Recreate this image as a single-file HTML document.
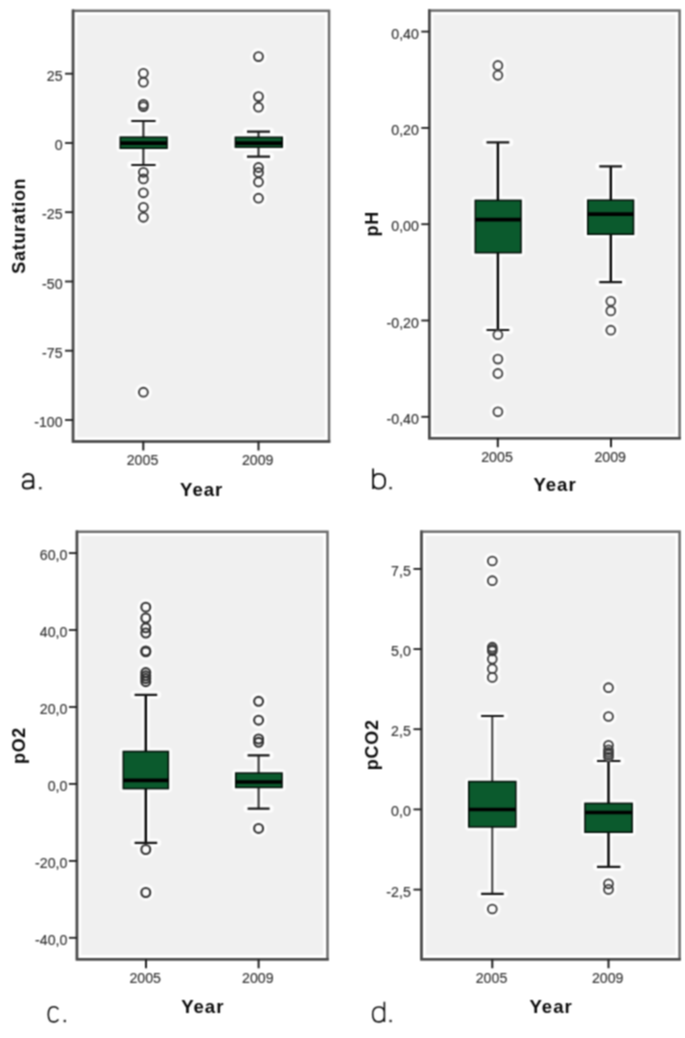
<!DOCTYPE html>
<html><head><meta charset="utf-8"><title>Box plots</title>
<style>
html,body{margin:0;padding:0;background:#fff;}
body{width:685px;height:1038px;overflow:hidden;}
svg{display:block;}
.tk{font-family:"Liberation Sans",sans-serif;font-size:14.2px;fill:#333333;stroke:#333333;stroke-width:0.15px;}
.yr{font-size:18.6px !important;letter-spacing:1.0px !important;}
.tt{font-family:"Liberation Sans",sans-serif;font-size:18px;font-weight:bold;fill:#0a0a0a;letter-spacing:0.7px;}
</style></head>
<body>
<svg width="685" height="1038" viewBox="0 0 685 1038">
<defs><filter id="sb" x="0" y="0" width="685" height="1038" filterUnits="userSpaceOnUse" color-interpolation-filters="sRGB"><feConvolveMatrix order="3" kernelMatrix="0.0625 0.125 0.0625 0.125 0.25 0.125 0.0625 0.125 0.0625" edgeMode="duplicate"/></filter></defs>
<g filter="url(#sb)">
<rect width="685" height="1038" fill="#fff"/>
<rect x="73.05" y="10.8" width="256" height="430.7" fill="#ffffff"/>
<rect x="77.25" y="15" width="247.6" height="422.3" fill="#f0f0f0"/>
<path d="M143.4,121 L143.4,165 M131.3,121 L155.6,121 M131.3,165 L155.6,165" stroke="#fdfdfd" stroke-width="8.2" stroke-linecap="round" fill="none"/>
<rect x="120.3" y="137.2" width="46.7" height="11" fill="#fdfdfd" stroke="#fdfdfd" stroke-width="7.6" stroke-linejoin="round"/>
<circle cx="143.4" cy="73.3" r="8.4" fill="#fdfdfd"/>
<circle cx="143.4" cy="82.2" r="8.4" fill="#fdfdfd"/>
<circle cx="143.4" cy="104.3" r="8.4" fill="#fdfdfd"/>
<circle cx="143.4" cy="106.6" r="8.4" fill="#fdfdfd"/>
<circle cx="143.4" cy="172.3" r="8.4" fill="#fdfdfd"/>
<circle cx="143.4" cy="178.9" r="8.4" fill="#fdfdfd"/>
<circle cx="143.4" cy="192.8" r="8.4" fill="#fdfdfd"/>
<circle cx="143.4" cy="207.3" r="8.4" fill="#fdfdfd"/>
<circle cx="143.4" cy="217.3" r="8.4" fill="#fdfdfd"/>
<circle cx="143.4" cy="392.2" r="8.4" fill="#fdfdfd"/>
<path d="M258.5,131.7 L258.5,156.7 M247,131.7 L270,131.7 M247,156.7 L270,156.7" stroke="#fdfdfd" stroke-width="8.2" stroke-linecap="round" fill="none"/>
<rect x="235.4" y="137.3" width="46.8" height="9.8" fill="#fdfdfd" stroke="#fdfdfd" stroke-width="7.6" stroke-linejoin="round"/>
<circle cx="258.5" cy="56.6" r="8.4" fill="#fdfdfd"/>
<circle cx="258.5" cy="96.6" r="8.4" fill="#fdfdfd"/>
<circle cx="258.5" cy="107.2" r="8.4" fill="#fdfdfd"/>
<circle cx="258.5" cy="167.5" r="8.4" fill="#fdfdfd"/>
<circle cx="258.5" cy="172.5" r="8.4" fill="#fdfdfd"/>
<circle cx="258.5" cy="182" r="8.4" fill="#fdfdfd"/>
<circle cx="258.5" cy="198.2" r="8.4" fill="#fdfdfd"/>
<path d="M143.4,121 L143.4,137.2 M143.4,148.2 L143.4,165" stroke="#2a2a2a" stroke-width="2.1" fill="none"/>
<path d="M131.3,121 L155.6,121 M131.3,165 L155.6,165" stroke="#151515" stroke-width="2.2" fill="none"/>
<rect x="120.3" y="137.2" width="46.7" height="11" fill="#0b5a2d" stroke="#021008" stroke-width="1.6"/>
<path d="M120.3,143.1 L167,143.1" stroke="#000" stroke-width="3.7"/>
<circle cx="143.4" cy="73.3" r="4.45" fill="#fcfcfc"/>
<circle cx="143.4" cy="82.2" r="4.45" fill="#fcfcfc"/>
<circle cx="143.4" cy="104.3" r="4.45" fill="#fcfcfc"/>
<circle cx="143.4" cy="106.6" r="4.45" fill="#fcfcfc"/>
<circle cx="143.4" cy="172.3" r="4.45" fill="#fcfcfc"/>
<circle cx="143.4" cy="178.9" r="4.45" fill="#fcfcfc"/>
<circle cx="143.4" cy="192.8" r="4.45" fill="#fcfcfc"/>
<circle cx="143.4" cy="207.3" r="4.45" fill="#fcfcfc"/>
<circle cx="143.4" cy="217.3" r="4.45" fill="#fcfcfc"/>
<circle cx="143.4" cy="392.2" r="4.45" fill="#fcfcfc"/>
<circle cx="143.4" cy="73.3" r="4.45" fill="none" stroke="#383838" stroke-width="1.9"/>
<circle cx="143.4" cy="82.2" r="4.45" fill="none" stroke="#383838" stroke-width="1.9"/>
<circle cx="143.4" cy="104.3" r="4.45" fill="none" stroke="#383838" stroke-width="1.9"/>
<circle cx="143.4" cy="106.6" r="4.45" fill="none" stroke="#383838" stroke-width="1.9"/>
<circle cx="143.4" cy="172.3" r="4.45" fill="none" stroke="#383838" stroke-width="1.9"/>
<circle cx="143.4" cy="178.9" r="4.45" fill="none" stroke="#383838" stroke-width="1.9"/>
<circle cx="143.4" cy="192.8" r="4.45" fill="none" stroke="#383838" stroke-width="1.9"/>
<circle cx="143.4" cy="207.3" r="4.45" fill="none" stroke="#383838" stroke-width="1.9"/>
<circle cx="143.4" cy="217.3" r="4.45" fill="none" stroke="#383838" stroke-width="1.9"/>
<circle cx="143.4" cy="392.2" r="4.45" fill="none" stroke="#383838" stroke-width="1.9"/>
<path d="M258.5,131.7 L258.5,137.3 M258.5,147.1 L258.5,156.7" stroke="#2a2a2a" stroke-width="2.1" fill="none"/>
<path d="M247,131.7 L270,131.7 M247,156.7 L270,156.7" stroke="#151515" stroke-width="2.2" fill="none"/>
<rect x="235.4" y="137.3" width="46.8" height="9.8" fill="#0b5a2d" stroke="#021008" stroke-width="1.6"/>
<path d="M235.4,143.2 L282.2,143.2" stroke="#000" stroke-width="3.7"/>
<circle cx="258.5" cy="56.6" r="4.45" fill="#fcfcfc"/>
<circle cx="258.5" cy="96.6" r="4.45" fill="#fcfcfc"/>
<circle cx="258.5" cy="107.2" r="4.45" fill="#fcfcfc"/>
<circle cx="258.5" cy="167.5" r="4.45" fill="#fcfcfc"/>
<circle cx="258.5" cy="172.5" r="4.45" fill="#fcfcfc"/>
<circle cx="258.5" cy="182" r="4.45" fill="#fcfcfc"/>
<circle cx="258.5" cy="198.2" r="4.45" fill="#fcfcfc"/>
<circle cx="258.5" cy="56.6" r="4.45" fill="none" stroke="#383838" stroke-width="1.9"/>
<circle cx="258.5" cy="96.6" r="4.45" fill="none" stroke="#383838" stroke-width="1.9"/>
<circle cx="258.5" cy="107.2" r="4.45" fill="none" stroke="#383838" stroke-width="1.9"/>
<circle cx="258.5" cy="167.5" r="4.45" fill="none" stroke="#383838" stroke-width="1.9"/>
<circle cx="258.5" cy="172.5" r="4.45" fill="none" stroke="#383838" stroke-width="1.9"/>
<circle cx="258.5" cy="182" r="4.45" fill="none" stroke="#383838" stroke-width="1.9"/>
<circle cx="258.5" cy="198.2" r="4.45" fill="none" stroke="#383838" stroke-width="1.9"/>
<rect x="73.05" y="10.8" width="256" height="430.7" fill="none" stroke="#6c6c6c" stroke-width="2.5"/>
<path d="M73.05,9.55 L73.05,441.5 L330.3,441.5" fill="none" stroke="#4a4a4a" stroke-width="2.5"/>
<path d="M65.05,73.7 L73.05,73.7" stroke="#1c1c1c" stroke-width="1.8"/>
<text x="62.6" y="80.7" text-anchor="end" class="tk">25</text>
<path d="M65.05,143 L73.05,143" stroke="#1c1c1c" stroke-width="1.8"/>
<text x="62.6" y="150" text-anchor="end" class="tk">0</text>
<path d="M65.05,212.2 L73.05,212.2" stroke="#1c1c1c" stroke-width="1.8"/>
<text x="62.6" y="219.2" text-anchor="end" class="tk">-25</text>
<path d="M65.05,281.5 L73.05,281.5" stroke="#1c1c1c" stroke-width="1.8"/>
<text x="62.6" y="288.5" text-anchor="end" class="tk">-50</text>
<path d="M65.05,350.7 L73.05,350.7" stroke="#1c1c1c" stroke-width="1.8"/>
<text x="62.6" y="357.7" text-anchor="end" class="tk">-75</text>
<path d="M65.05,420 L73.05,420" stroke="#1c1c1c" stroke-width="1.8"/>
<text x="62.6" y="427" text-anchor="end" class="tk">-100</text>
<path d="M143.3,441.5 L143.3,450.5" stroke="#1c1c1c" stroke-width="2"/>
<text x="142.5" y="465.2" text-anchor="middle" class="tk">2005</text>
<path d="M258.5,441.5 L258.5,450.5" stroke="#1c1c1c" stroke-width="2"/>
<text x="257.7" y="465.2" text-anchor="middle" class="tk">2009</text>
<text x="201.65" y="495.6" text-anchor="middle" class="tt yr">Year</text>
<text transform="translate(25.3,225.7) rotate(-90)" x="0" y="0" text-anchor="middle" class="tt">Saturation</text>
<g fill="none" stroke="#111" stroke-width="2.0" stroke-linecap="butt"><path d="M22.9,477.6 C24,474.6 26,473.9 28.1,473.9 C31.6,473.9 33.3,475.6 33.3,479 L33.3,488.7 M33.3,481.3 L27.2,481.3 C24.4,481.3 22.8,482.9 22.8,485 C22.8,487.3 24.5,488.6 27,488.6 C29.6,488.6 31.9,487.4 33.3,485.2"/></g>
<rect x="39.1" y="487" width="2.4" height="2.4" fill="#333"/>
<rect x="429.3" y="10.55" width="250.3" height="427.65" fill="#ffffff"/>
<rect x="433.5" y="14.75" width="241.9" height="419.25" fill="#f0f0f0"/>
<path d="M497.9,142.4 L497.9,330 M486.5,142.4 L509.3,142.4 M486.5,330 L509.3,330" stroke="#fdfdfd" stroke-width="8.2" stroke-linecap="round" fill="none"/>
<rect x="475.3" y="200.4" width="45.7" height="52.3" fill="#fdfdfd" stroke="#fdfdfd" stroke-width="7.6" stroke-linejoin="round"/>
<circle cx="497.9" cy="65.5" r="8.4" fill="#fdfdfd"/>
<circle cx="497.9" cy="75.3" r="8.4" fill="#fdfdfd"/>
<circle cx="497.9" cy="334.7" r="8.4" fill="#fdfdfd"/>
<circle cx="497.9" cy="359.1" r="8.4" fill="#fdfdfd"/>
<circle cx="497.9" cy="373.5" r="8.4" fill="#fdfdfd"/>
<circle cx="497.9" cy="411.8" r="8.4" fill="#fdfdfd"/>
<path d="M610.8,166.4 L610.8,282.2 M599.3,166.4 L622,166.4 M599.3,282.2 L622,282.2" stroke="#fdfdfd" stroke-width="8.2" stroke-linecap="round" fill="none"/>
<rect x="587.8" y="200.2" width="45.7" height="34" fill="#fdfdfd" stroke="#fdfdfd" stroke-width="7.6" stroke-linejoin="round"/>
<circle cx="610.8" cy="301.3" r="8.4" fill="#fdfdfd"/>
<circle cx="610.8" cy="310.9" r="8.4" fill="#fdfdfd"/>
<circle cx="610.8" cy="330.2" r="8.4" fill="#fdfdfd"/>
<path d="M497.9,142.4 L497.9,200.4 M497.9,252.7 L497.9,330" stroke="#000" stroke-width="2.4" fill="none"/>
<path d="M486.5,142.4 L509.3,142.4 M486.5,330 L509.3,330" stroke="#151515" stroke-width="2.2" fill="none"/>
<rect x="475.3" y="200.4" width="45.7" height="52.3" fill="#0b5a2d" stroke="#021008" stroke-width="1.6"/>
<path d="M475.3,219.6 L521,219.6" stroke="#000" stroke-width="3.7"/>
<circle cx="497.9" cy="65.5" r="4.45" fill="#fcfcfc"/>
<circle cx="497.9" cy="75.3" r="4.45" fill="#fcfcfc"/>
<circle cx="497.9" cy="334.7" r="4.45" fill="#fcfcfc"/>
<circle cx="497.9" cy="359.1" r="4.45" fill="#fcfcfc"/>
<circle cx="497.9" cy="373.5" r="4.45" fill="#fcfcfc"/>
<circle cx="497.9" cy="411.8" r="4.45" fill="#fcfcfc"/>
<circle cx="497.9" cy="65.5" r="4.45" fill="none" stroke="#454545" stroke-width="1.9"/>
<circle cx="497.9" cy="75.3" r="4.45" fill="none" stroke="#454545" stroke-width="1.9"/>
<circle cx="497.9" cy="334.7" r="4.45" fill="none" stroke="#454545" stroke-width="1.9"/>
<circle cx="497.9" cy="359.1" r="4.45" fill="none" stroke="#454545" stroke-width="1.9"/>
<circle cx="497.9" cy="373.5" r="4.45" fill="none" stroke="#454545" stroke-width="1.9"/>
<circle cx="497.9" cy="411.8" r="4.45" fill="none" stroke="#454545" stroke-width="1.9"/>
<path d="M610.8,166.4 L610.8,200.2 M610.8,234.2 L610.8,282.2" stroke="#000" stroke-width="2.4" fill="none"/>
<path d="M599.3,166.4 L622,166.4 M599.3,282.2 L622,282.2" stroke="#151515" stroke-width="2.2" fill="none"/>
<rect x="587.8" y="200.2" width="45.7" height="34" fill="#0b5a2d" stroke="#021008" stroke-width="1.6"/>
<path d="M587.8,214.2 L633.5,214.2" stroke="#000" stroke-width="3.7"/>
<circle cx="610.8" cy="301.3" r="4.45" fill="#fcfcfc"/>
<circle cx="610.8" cy="310.9" r="4.45" fill="#fcfcfc"/>
<circle cx="610.8" cy="330.2" r="4.45" fill="#fcfcfc"/>
<circle cx="610.8" cy="301.3" r="4.45" fill="none" stroke="#454545" stroke-width="1.9"/>
<circle cx="610.8" cy="310.9" r="4.45" fill="none" stroke="#454545" stroke-width="1.9"/>
<circle cx="610.8" cy="330.2" r="4.45" fill="none" stroke="#454545" stroke-width="1.9"/>
<rect x="429.3" y="10.55" width="250.3" height="427.65" fill="none" stroke="#6c6c6c" stroke-width="2.5"/>
<path d="M429.3,9.3 L429.3,438.2 L680.85,438.2" fill="none" stroke="#4a4a4a" stroke-width="2.5"/>
<path d="M421.3,31.6 L429.3,31.6" stroke="#1c1c1c" stroke-width="1.8"/>
<text x="418.9" y="38.6" text-anchor="end" class="tk">0,40</text>
<path d="M421.3,127.9 L429.3,127.9" stroke="#1c1c1c" stroke-width="1.8"/>
<text x="418.9" y="134.9" text-anchor="end" class="tk">0,20</text>
<path d="M421.3,224.2 L429.3,224.2" stroke="#1c1c1c" stroke-width="1.8"/>
<text x="418.9" y="231.2" text-anchor="end" class="tk">0,00</text>
<path d="M421.3,320.5 L429.3,320.5" stroke="#1c1c1c" stroke-width="1.8"/>
<text x="418.9" y="327.5" text-anchor="end" class="tk">-0,20</text>
<path d="M421.3,416.8 L429.3,416.8" stroke="#1c1c1c" stroke-width="1.8"/>
<text x="418.9" y="423.8" text-anchor="end" class="tk">-0,40</text>
<path d="M497.8,438.2 L497.8,447.2" stroke="#1c1c1c" stroke-width="2"/>
<text x="497" y="461.8" text-anchor="middle" class="tk">2005</text>
<path d="M611,438.2 L611,447.2" stroke="#1c1c1c" stroke-width="2"/>
<text x="610.2" y="461.8" text-anchor="middle" class="tk">2009</text>
<text x="555.05" y="491.3" text-anchor="middle" class="tt yr">Year</text>
<text transform="translate(377.9,223.8) rotate(-90)" x="0" y="0" text-anchor="middle" class="tt">pH</text>
<g fill="none" stroke="#111" stroke-width="1.8" stroke-linecap="butt"><path d="M373.1,468.5 L373.1,488.9 M373.1,478.6 C373.6,475.6 375.8,473.9 378.9,473.9 C383,473.9 385.2,476.9 385.2,481.3 C385.2,485.9 383,488.7 378.9,488.7 C375.8,488.7 373.6,487 373.1,484"/></g>
<rect x="389.4" y="486.9" width="2.4" height="2.4" fill="#333"/>
<rect x="76.95" y="531.75" width="250.55" height="427.55" fill="#ffffff"/>
<rect x="81.15" y="535.95" width="242.15" height="419.15" fill="#f0f0f0"/>
<path d="M145.8,694.8 L145.8,842.8 M134.6,694.8 L157.2,694.8 M134.6,842.8 L157.2,842.8" stroke="#fdfdfd" stroke-width="8.2" stroke-linecap="round" fill="none"/>
<rect x="123.3" y="751.5" width="45" height="37.1" fill="#fdfdfd" stroke="#fdfdfd" stroke-width="7.6" stroke-linejoin="round"/>
<circle cx="145.8" cy="607.2" r="8.5" fill="#fdfdfd"/>
<circle cx="145.8" cy="618" r="8.5" fill="#fdfdfd"/>
<circle cx="145.8" cy="627.8" r="8.5" fill="#fdfdfd"/>
<circle cx="145.8" cy="633" r="8.5" fill="#fdfdfd"/>
<circle cx="145.8" cy="651" r="8.5" fill="#fdfdfd"/>
<circle cx="145.8" cy="651.8" r="8.5" fill="#fdfdfd"/>
<circle cx="145.8" cy="672.6" r="8.5" fill="#fdfdfd"/>
<circle cx="145.8" cy="675.8" r="8.5" fill="#fdfdfd"/>
<circle cx="145.8" cy="678.6" r="8.5" fill="#fdfdfd"/>
<circle cx="145.8" cy="681.7" r="8.5" fill="#fdfdfd"/>
<circle cx="145.8" cy="849.5" r="8.5" fill="#fdfdfd"/>
<circle cx="145.8" cy="892.5" r="8.5" fill="#fdfdfd"/>
<path d="M258.6,755.4 L258.6,808.7 M247.6,755.4 L269.6,755.4 M247.6,808.7 L269.6,808.7" stroke="#fdfdfd" stroke-width="8.2" stroke-linecap="round" fill="none"/>
<rect x="235.8" y="773.1" width="46.2" height="14.3" fill="#fdfdfd" stroke="#fdfdfd" stroke-width="7.6" stroke-linejoin="round"/>
<circle cx="258.6" cy="701.3" r="8.5" fill="#fdfdfd"/>
<circle cx="258.6" cy="720.2" r="8.5" fill="#fdfdfd"/>
<circle cx="258.6" cy="739" r="8.5" fill="#fdfdfd"/>
<circle cx="258.6" cy="742.3" r="8.5" fill="#fdfdfd"/>
<circle cx="258.6" cy="828.4" r="8.5" fill="#fdfdfd"/>
<path d="M145.8,694.8 L145.8,751.5 M145.8,788.6 L145.8,842.8" stroke="#000" stroke-width="2.4" fill="none"/>
<path d="M134.6,694.8 L157.2,694.8 M134.6,842.8 L157.2,842.8" stroke="#151515" stroke-width="2.2" fill="none"/>
<rect x="123.3" y="751.5" width="45" height="37.1" fill="#0b5a2d" stroke="#021008" stroke-width="1.6"/>
<path d="M123.3,780.4 L168.3,780.4" stroke="#000" stroke-width="3.7"/>
<circle cx="145.8" cy="607.2" r="4.45" fill="#fcfcfc"/>
<circle cx="145.8" cy="618" r="4.45" fill="#fcfcfc"/>
<circle cx="145.8" cy="627.8" r="4.45" fill="#fcfcfc"/>
<circle cx="145.8" cy="633" r="4.45" fill="#fcfcfc"/>
<circle cx="145.8" cy="651" r="4.45" fill="#fcfcfc"/>
<circle cx="145.8" cy="651.8" r="4.45" fill="#fcfcfc"/>
<circle cx="145.8" cy="672.6" r="4.45" fill="#fcfcfc"/>
<circle cx="145.8" cy="675.8" r="4.45" fill="#fcfcfc"/>
<circle cx="145.8" cy="678.6" r="4.45" fill="#fcfcfc"/>
<circle cx="145.8" cy="681.7" r="4.45" fill="#fcfcfc"/>
<circle cx="145.8" cy="849.5" r="4.45" fill="#fcfcfc"/>
<circle cx="145.8" cy="892.5" r="4.45" fill="#fcfcfc"/>
<circle cx="145.8" cy="607.2" r="4.45" fill="none" stroke="#333" stroke-width="2.1"/>
<circle cx="145.8" cy="618" r="4.45" fill="none" stroke="#333" stroke-width="2.1"/>
<circle cx="145.8" cy="627.8" r="4.45" fill="none" stroke="#333" stroke-width="2.1"/>
<circle cx="145.8" cy="633" r="4.45" fill="none" stroke="#333" stroke-width="2.1"/>
<circle cx="145.8" cy="651" r="4.45" fill="none" stroke="#333" stroke-width="2.1"/>
<circle cx="145.8" cy="651.8" r="4.45" fill="none" stroke="#333" stroke-width="2.1"/>
<circle cx="145.8" cy="672.6" r="4.45" fill="none" stroke="#333" stroke-width="2.1"/>
<circle cx="145.8" cy="675.8" r="4.45" fill="none" stroke="#333" stroke-width="2.1"/>
<circle cx="145.8" cy="678.6" r="4.45" fill="none" stroke="#333" stroke-width="2.1"/>
<circle cx="145.8" cy="681.7" r="4.45" fill="none" stroke="#333" stroke-width="2.1"/>
<circle cx="145.8" cy="849.5" r="4.45" fill="none" stroke="#333" stroke-width="2.1"/>
<circle cx="145.8" cy="892.5" r="4.45" fill="none" stroke="#333" stroke-width="2.1"/>
<path d="M258.6,755.4 L258.6,773.1 M258.6,787.4 L258.6,808.7" stroke="#3a3a3a" stroke-width="2.2" fill="none"/>
<path d="M247.6,755.4 L269.6,755.4 M247.6,808.7 L269.6,808.7" stroke="#151515" stroke-width="2.2" fill="none"/>
<rect x="235.8" y="773.1" width="46.2" height="14.3" fill="#0b5a2d" stroke="#021008" stroke-width="1.6"/>
<path d="M235.8,782 L282,782" stroke="#000" stroke-width="3.7"/>
<circle cx="258.6" cy="701.3" r="4.45" fill="#fcfcfc"/>
<circle cx="258.6" cy="720.2" r="4.45" fill="#fcfcfc"/>
<circle cx="258.6" cy="739" r="4.45" fill="#fcfcfc"/>
<circle cx="258.6" cy="742.3" r="4.45" fill="#fcfcfc"/>
<circle cx="258.6" cy="828.4" r="4.45" fill="#fcfcfc"/>
<circle cx="258.6" cy="701.3" r="4.45" fill="none" stroke="#333" stroke-width="2.1"/>
<circle cx="258.6" cy="720.2" r="4.45" fill="none" stroke="#333" stroke-width="2.1"/>
<circle cx="258.6" cy="739" r="4.45" fill="none" stroke="#333" stroke-width="2.1"/>
<circle cx="258.6" cy="742.3" r="4.45" fill="none" stroke="#333" stroke-width="2.1"/>
<circle cx="258.6" cy="828.4" r="4.45" fill="none" stroke="#333" stroke-width="2.1"/>
<rect x="76.95" y="531.75" width="250.55" height="427.55" fill="none" stroke="#6c6c6c" stroke-width="2.5"/>
<path d="M76.95,530.5 L76.95,959.3 L328.75,959.3" fill="none" stroke="#4a4a4a" stroke-width="2.5"/>
<path d="M68.95,553.1 L76.95,553.1" stroke="#1c1c1c" stroke-width="1.8"/>
<text x="67.4" y="560.1" text-anchor="end" class="tk">60,0</text>
<path d="M68.95,630 L76.95,630" stroke="#1c1c1c" stroke-width="1.8"/>
<text x="67.4" y="637" text-anchor="end" class="tk">40,0</text>
<path d="M68.95,707 L76.95,707" stroke="#1c1c1c" stroke-width="1.8"/>
<text x="67.4" y="714" text-anchor="end" class="tk">20,0</text>
<path d="M68.95,783.9 L76.95,783.9" stroke="#1c1c1c" stroke-width="1.8"/>
<text x="67.4" y="790.9" text-anchor="end" class="tk">0,0</text>
<path d="M68.95,860.9 L76.95,860.9" stroke="#1c1c1c" stroke-width="1.8"/>
<text x="67.4" y="867.9" text-anchor="end" class="tk">-20,0</text>
<path d="M68.95,937.8 L76.95,937.8" stroke="#1c1c1c" stroke-width="1.8"/>
<text x="67.4" y="944.8" text-anchor="end" class="tk">-40,0</text>
<path d="M146,959.3 L146,968.3" stroke="#1c1c1c" stroke-width="2"/>
<text x="145.2" y="982.9" text-anchor="middle" class="tk">2005</text>
<path d="M258.6,959.3 L258.6,968.3" stroke="#1c1c1c" stroke-width="2"/>
<text x="257.8" y="982.9" text-anchor="middle" class="tk">2009</text>
<text x="202.82" y="1013.4" text-anchor="middle" class="tt yr">Year</text>
<text transform="translate(25.4,745.5) rotate(-90)" x="0" y="0" text-anchor="middle" class="tt">pO2</text>
<g fill="none" stroke="#111" stroke-width="1.6" stroke-linecap="butt"><path d="M58.3,1009.3 C57.3,1007.6 55.8,1006.8 53.8,1006.8 C50.2,1006.8 48.3,1009.8 48.3,1014.4 C48.3,1019.1 50.2,1021.9 53.8,1021.9 C55.8,1021.9 57.3,1021 58.3,1019.3"/></g>
<rect x="63.6" y="1019.8" width="2.4" height="2.4" fill="#333"/>
<rect x="421.45" y="531.65" width="258.15" height="427.6" fill="#ffffff"/>
<rect x="425.65" y="535.85" width="249.75" height="419.2" fill="#f0f0f0"/>
<path d="M492.3,716 L492.3,893.9 M481.1,716 L503.7,716 M481.1,893.9 L503.7,893.9" stroke="#fdfdfd" stroke-width="8.2" stroke-linecap="round" fill="none"/>
<rect x="468.8" y="781.6" width="47" height="45.3" fill="#fdfdfd" stroke="#fdfdfd" stroke-width="7.6" stroke-linejoin="round"/>
<circle cx="492.3" cy="561" r="8.35" fill="#fdfdfd"/>
<circle cx="492.3" cy="580.7" r="8.35" fill="#fdfdfd"/>
<circle cx="492.3" cy="647.2" r="8.35" fill="#fdfdfd"/>
<circle cx="492.3" cy="649.3" r="8.35" fill="#fdfdfd"/>
<circle cx="492.3" cy="650.9" r="8.35" fill="#fdfdfd"/>
<circle cx="492.3" cy="659.1" r="8.35" fill="#fdfdfd"/>
<circle cx="492.3" cy="668.7" r="8.35" fill="#fdfdfd"/>
<circle cx="492.3" cy="677.4" r="8.35" fill="#fdfdfd"/>
<circle cx="492.3" cy="909" r="8.35" fill="#fdfdfd"/>
<path d="M608.5,761 L608.5,866.8 M597,761 L620.4,761 M597,866.8 L620.4,866.8" stroke="#fdfdfd" stroke-width="8.2" stroke-linecap="round" fill="none"/>
<rect x="585" y="803.4" width="47.1" height="28.8" fill="#fdfdfd" stroke="#fdfdfd" stroke-width="7.6" stroke-linejoin="round"/>
<circle cx="608.5" cy="687.7" r="8.35" fill="#fdfdfd"/>
<circle cx="608.5" cy="716.5" r="8.35" fill="#fdfdfd"/>
<circle cx="608.5" cy="745.3" r="8.35" fill="#fdfdfd"/>
<circle cx="608.5" cy="749.8" r="8.35" fill="#fdfdfd"/>
<circle cx="608.5" cy="752.3" r="8.35" fill="#fdfdfd"/>
<circle cx="608.5" cy="754.6" r="8.35" fill="#fdfdfd"/>
<circle cx="608.5" cy="757" r="8.35" fill="#fdfdfd"/>
<circle cx="608.5" cy="883.8" r="8.35" fill="#fdfdfd"/>
<circle cx="608.5" cy="889.4" r="8.35" fill="#fdfdfd"/>
<path d="M492.3,716 L492.3,781.6 M492.3,826.9 L492.3,893.9" stroke="#333" stroke-width="1.9" fill="none"/>
<path d="M481.1,716 L503.7,716 M481.1,893.9 L503.7,893.9" stroke="#151515" stroke-width="2.2" fill="none"/>
<rect x="468.8" y="781.6" width="47" height="45.3" fill="#0b5a2d" stroke="#021008" stroke-width="1.6"/>
<path d="M468.8,809.5 L515.8,809.5" stroke="#000" stroke-width="3.7"/>
<circle cx="492.3" cy="561" r="4.45" fill="#fcfcfc"/>
<circle cx="492.3" cy="580.7" r="4.45" fill="#fcfcfc"/>
<circle cx="492.3" cy="647.2" r="4.45" fill="#fcfcfc"/>
<circle cx="492.3" cy="649.3" r="4.45" fill="#fcfcfc"/>
<circle cx="492.3" cy="650.9" r="4.45" fill="#fcfcfc"/>
<circle cx="492.3" cy="659.1" r="4.45" fill="#fcfcfc"/>
<circle cx="492.3" cy="668.7" r="4.45" fill="#fcfcfc"/>
<circle cx="492.3" cy="677.4" r="4.45" fill="#fcfcfc"/>
<circle cx="492.3" cy="909" r="4.45" fill="#fcfcfc"/>
<circle cx="492.3" cy="561" r="4.45" fill="none" stroke="#3a3a3a" stroke-width="1.8"/>
<circle cx="492.3" cy="580.7" r="4.45" fill="none" stroke="#3a3a3a" stroke-width="1.8"/>
<circle cx="492.3" cy="647.2" r="4.45" fill="none" stroke="#3a3a3a" stroke-width="1.8"/>
<circle cx="492.3" cy="649.3" r="4.45" fill="none" stroke="#3a3a3a" stroke-width="1.8"/>
<circle cx="492.3" cy="650.9" r="4.45" fill="none" stroke="#3a3a3a" stroke-width="1.8"/>
<circle cx="492.3" cy="659.1" r="4.45" fill="none" stroke="#3a3a3a" stroke-width="1.8"/>
<circle cx="492.3" cy="668.7" r="4.45" fill="none" stroke="#3a3a3a" stroke-width="1.8"/>
<circle cx="492.3" cy="677.4" r="4.45" fill="none" stroke="#3a3a3a" stroke-width="1.8"/>
<circle cx="492.3" cy="909" r="4.45" fill="none" stroke="#3a3a3a" stroke-width="1.8"/>
<path d="M608.5,761 L608.5,803.4 M608.5,832.2 L608.5,866.8" stroke="#000" stroke-width="2.4" fill="none"/>
<path d="M597,761 L620.4,761 M597,866.8 L620.4,866.8" stroke="#151515" stroke-width="2.2" fill="none"/>
<rect x="585" y="803.4" width="47.1" height="28.8" fill="#0b5a2d" stroke="#021008" stroke-width="1.6"/>
<path d="M585,812.5 L632.1,812.5" stroke="#000" stroke-width="3.7"/>
<circle cx="608.5" cy="687.7" r="4.45" fill="#fcfcfc"/>
<circle cx="608.5" cy="716.5" r="4.45" fill="#fcfcfc"/>
<circle cx="608.5" cy="745.3" r="4.45" fill="#fcfcfc"/>
<circle cx="608.5" cy="749.8" r="4.45" fill="#fcfcfc"/>
<circle cx="608.5" cy="752.3" r="4.45" fill="#fcfcfc"/>
<circle cx="608.5" cy="754.6" r="4.45" fill="#fcfcfc"/>
<circle cx="608.5" cy="757" r="4.45" fill="#fcfcfc"/>
<circle cx="608.5" cy="883.8" r="4.45" fill="#fcfcfc"/>
<circle cx="608.5" cy="889.4" r="4.45" fill="#fcfcfc"/>
<circle cx="608.5" cy="687.7" r="4.45" fill="none" stroke="#3a3a3a" stroke-width="1.8"/>
<circle cx="608.5" cy="716.5" r="4.45" fill="none" stroke="#3a3a3a" stroke-width="1.8"/>
<circle cx="608.5" cy="745.3" r="4.45" fill="none" stroke="#3a3a3a" stroke-width="1.8"/>
<circle cx="608.5" cy="749.8" r="4.45" fill="none" stroke="#3a3a3a" stroke-width="1.8"/>
<circle cx="608.5" cy="752.3" r="4.45" fill="none" stroke="#3a3a3a" stroke-width="1.8"/>
<circle cx="608.5" cy="754.6" r="4.45" fill="none" stroke="#3a3a3a" stroke-width="1.8"/>
<circle cx="608.5" cy="757" r="4.45" fill="none" stroke="#3a3a3a" stroke-width="1.8"/>
<circle cx="608.5" cy="883.8" r="4.45" fill="none" stroke="#3a3a3a" stroke-width="1.8"/>
<circle cx="608.5" cy="889.4" r="4.45" fill="none" stroke="#3a3a3a" stroke-width="1.8"/>
<rect x="421.45" y="531.65" width="258.15" height="427.6" fill="none" stroke="#6c6c6c" stroke-width="2.5"/>
<path d="M421.45,530.4 L421.45,959.25 L680.85,959.25" fill="none" stroke="#4a4a4a" stroke-width="2.5"/>
<path d="M413.45,568.9 L421.45,568.9" stroke="#1c1c1c" stroke-width="1.8"/>
<text x="410.8" y="575.9" text-anchor="end" class="tk">7,5</text>
<path d="M413.45,649.1 L421.45,649.1" stroke="#1c1c1c" stroke-width="1.8"/>
<text x="410.8" y="656.1" text-anchor="end" class="tk">5,0</text>
<path d="M413.45,729.2 L421.45,729.2" stroke="#1c1c1c" stroke-width="1.8"/>
<text x="410.8" y="736.2" text-anchor="end" class="tk">2,5</text>
<path d="M413.45,809.4 L421.45,809.4" stroke="#1c1c1c" stroke-width="1.8"/>
<text x="410.8" y="816.4" text-anchor="end" class="tk">0,0</text>
<path d="M413.45,889.6 L421.45,889.6" stroke="#1c1c1c" stroke-width="1.8"/>
<text x="410.8" y="896.6" text-anchor="end" class="tk">-2,5</text>
<path d="M492.3,959.25 L492.3,968.25" stroke="#1c1c1c" stroke-width="2"/>
<text x="491.5" y="983" text-anchor="middle" class="tk">2005</text>
<path d="M608.5,959.25 L608.5,968.25" stroke="#1c1c1c" stroke-width="2"/>
<text x="607.7" y="983" text-anchor="middle" class="tk">2009</text>
<text x="551.12" y="1013.4" text-anchor="middle" class="tt yr">Year</text>
<text transform="translate(377.9,744.8) rotate(-90)" x="0" y="0" text-anchor="middle" class="tt">pCO2</text>
<g fill="none" stroke="#111" stroke-width="1.6" stroke-linecap="butt"><path d="M384.4,1001.8 L384.4,1022 M384.4,1011.8 C383.9,1008.8 381.8,1007 378.7,1007 C374.7,1007 372.7,1010 372.7,1014.5 C372.7,1019 374.7,1021.9 378.7,1021.9 C381.8,1021.9 383.9,1020.1 384.4,1017.1"/></g>
<rect x="389.4" y="1019.8" width="2.4" height="2.4" fill="#333"/>
</g>
</svg>
</body></html>
